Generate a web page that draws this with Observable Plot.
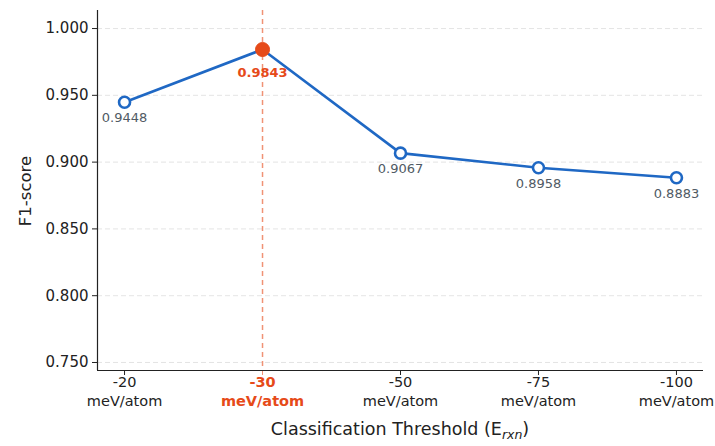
<!DOCTYPE html>
<html>
<head>
<meta charset="utf-8">
<script src="https://cdn.jsdelivr.net/npm/d3@7"></script>
<script src="https://cdn.jsdelivr.net/npm/@observablehq/plot@0.6"></script>
<style>
  html, body { margin: 0; padding: 0; background: #fff; }
  svg { font-family: "DejaVu Sans", sans-serif; }
</style>
</head>
<body>
<div id="chart"></div>
<script>
const thresholds = ["-20", "-30", "-50", "-75", "-100"];
const unitLabel = "meV/atom";
const f1Scores = [0.9448, 0.9843, 0.9067, 0.8958, 0.8883];
const valueLabels = ["0.9448", "0.9843", "0.9067", "0.8958", "0.8883"];
const bestIndex = 1;
const yTicks = [0.75, 0.80, 0.85, 0.90, 0.95, 1.00];

const data = thresholds.map((t, i) => ({i, t, f1: f1Scores[i], label: valueLabels[i], best: i === bestIndex}));
const normal = data.filter(d => !d.best);
const best = data.filter(d => d.best);

const blue = "#1f68c4";
const orange = "#e64a19";
const gray = "#505a64";

const chart = Plot.plot({
  width: 715,
  height: 446,
  marginLeft: 97,
  marginRight: 12,
  marginTop: 10,
  marginBottom: 76,
  style: {fontFamily: "DejaVu Sans, sans-serif", fontSize: "15px", color: "#222", background: "#fff"},
  x: {domain: [-0.196, 4.196]},
  y: {domain: [0.744, 1.0135]},
  marks: [
    Plot.gridY(yTicks, {stroke: "#dddddd", strokeOpacity: 1, strokeDasharray: "5,3", strokeWidth: 0.8}),
    Plot.ruleX([bestIndex], {stroke: orange, strokeOpacity: 0.6, strokeWidth: 1.5, strokeDasharray: "5,4"}),
    Plot.axisY({ticks: yTicks, tickFormat: d3.format(".3f"), tickSize: 5, tickPadding: 4, label: null, fontSize: 15}),
    Plot.axisX({ticks: [0, 2, 3, 4], tickFormat: () => "", tickSize: 5, label: null}),
    Plot.axisX({ticks: [bestIndex], tickFormat: () => "", tickSize: 5, stroke: orange, strokeOpacity: 0.6, label: null}),
    Plot.ruleY([0.744], {stroke: "#222", strokeWidth: 1.2}),
    Plot.ruleX([-0.196], {stroke: "#222", strokeWidth: 1.2}),
    Plot.line(data, {x: "i", y: "f1", stroke: blue, strokeWidth: 2.6}),
    Plot.dot(normal, {x: "i", y: "f1", r: 5.5, fill: "white", stroke: blue, strokeWidth: 2.6}),
    Plot.dot(best, {x: "i", y: "f1", r: 7, fill: orange, stroke: orange, strokeWidth: 1}),
    Plot.text(normal, {x: "i", y: "f1", text: "label", dy: 16, fill: gray, fontSize: 13}),
    Plot.text(best, {x: "i", y: "f1", text: "label", dy: 23, fill: orange, fontSize: 13, fontWeight: "bold"}),
    Plot.text(normal, {x: "i", text: "t", frameAnchor: "bottom", dy: 16, fill: "#222", fontSize: 14.5}),
    Plot.text(normal, {x: "i", text: () => unitLabel, frameAnchor: "bottom", dy: 35, fill: "#222", fontSize: 14.5}),
    Plot.text(best, {x: "i", text: "t", frameAnchor: "bottom", dy: 16, fill: orange, fontSize: 14.5, fontWeight: "bold"}),
    Plot.text(best, {x: "i", text: () => unitLabel, frameAnchor: "bottom", dy: 35, fill: orange, fontSize: 14.5, fontWeight: "bold"})
  ]
});

const svg = d3.select(chart);
const xl = svg.append("text")
  .attr("x", 400).attr("y", 434.5)
  .attr("text-anchor", "middle")
  .attr("fill", "#222")
  .attr("font-size", 17.5)
  .text("Classification Threshold (E");
xl.append("tspan").attr("font-style", "italic").attr("font-size", 12.5).attr("dy", 4).text("rxn");
xl.append("tspan").attr("dy", -4).text(")");

svg.append("text")
  .attr("transform", "translate(31,191) rotate(-90)")
  .attr("text-anchor", "middle")
  .attr("fill", "#222")
  .attr("font-size", 16.5)
  .text("F1-score");

document.getElementById("chart").appendChild(chart);
</script>
</body>
</html>
